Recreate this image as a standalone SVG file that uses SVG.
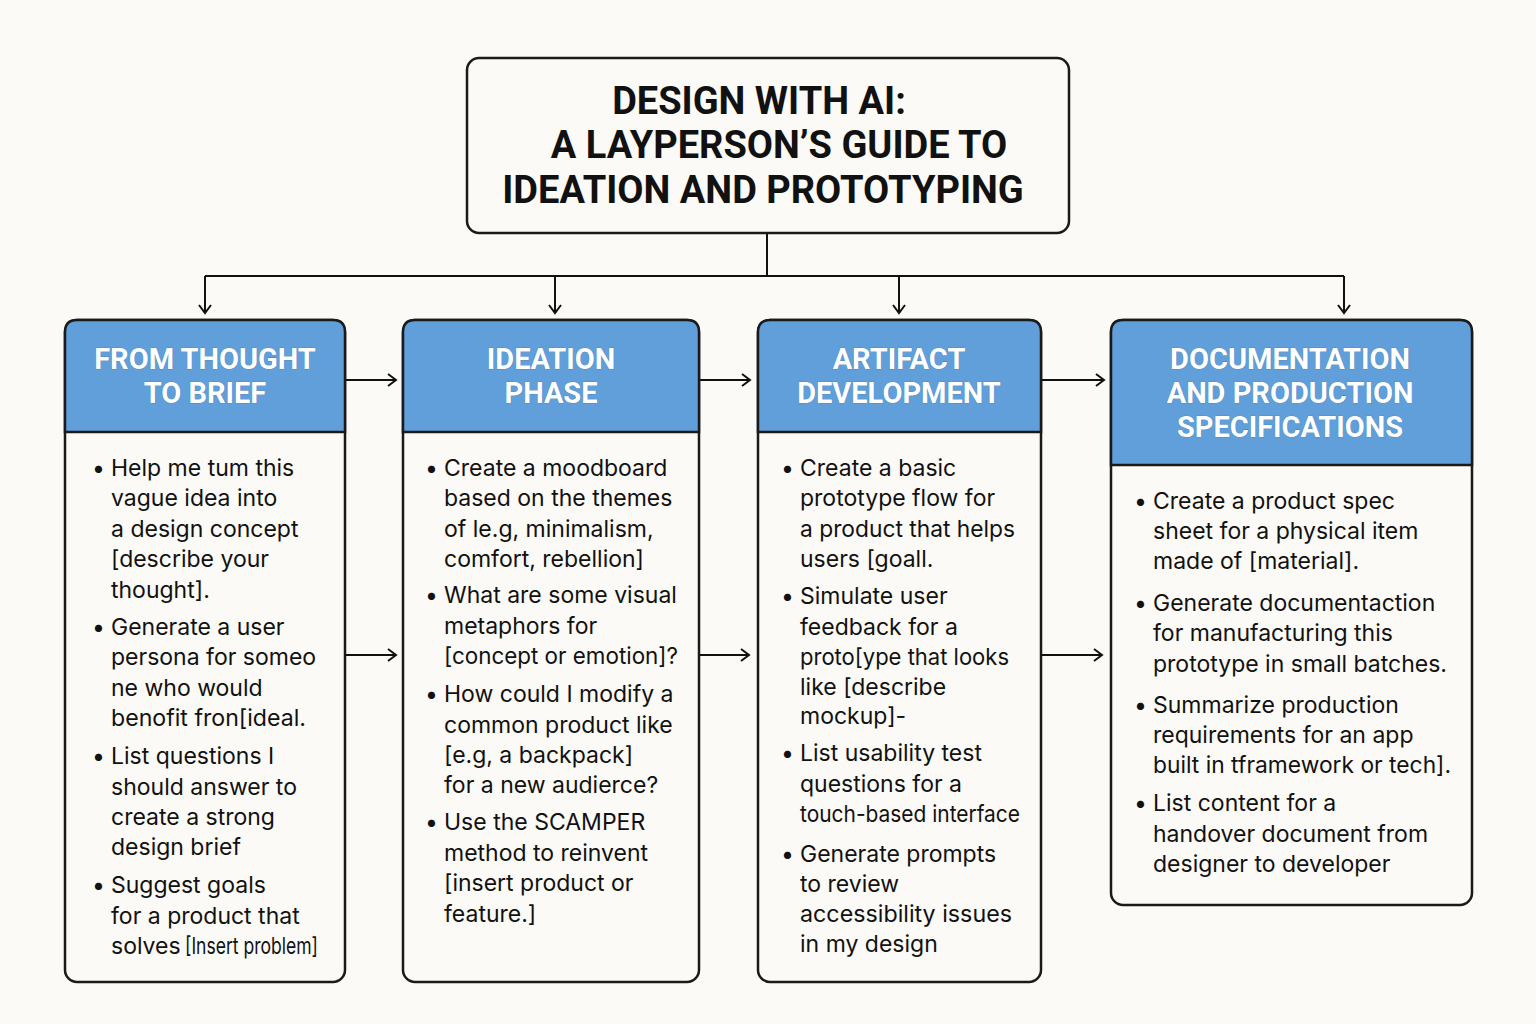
<svg xmlns="http://www.w3.org/2000/svg" width="1536" height="1024" viewBox="0 0 1536 1024">
<defs>
<marker id="ah" markerWidth="14" markerHeight="14" refX="11" refY="7" orient="auto" markerUnits="userSpaceOnUse">
<path d="M3,1 L11,7 L3,13" fill="none" stroke="#111" stroke-width="2"/>
</marker>
<style>
.box{fill:#fbfaf6;stroke:#1a1a1a;stroke-width:2.5}
.hdr{fill:#619fdb;stroke:#1a1a1a;stroke-width:2.5}
.title{font-family:Roboto,"Liberation Sans",sans-serif;font-weight:700;font-size:38px;fill:#111;text-anchor:middle}
.ht{font-family:Roboto,"Liberation Sans",sans-serif;font-weight:700;font-size:29px;fill:#fff;text-anchor:middle;stroke:#3f78b0;stroke-width:0.6;paint-order:stroke}
.bt{font-family:Inter,"Liberation Sans",sans-serif;font-size:23px;fill:#111}
.bu{font-family:Inter,"Liberation Sans",sans-serif;font-size:23px;fill:#111}
.ln{fill:none;stroke:#111;stroke-width:2}
</style>
</defs>
<rect width="1536" height="1024" fill="#fbfaf6"/>

<g id="connectors">
<path class="ln" d="M767,233 V276"/>
<path class="ln" d="M205,276 H1344"/>
<path class="ln" d="M205,276 V313" marker-end="url(#ah)"/>
<path class="ln" d="M555,276 V313" marker-end="url(#ah)"/>
<path class="ln" d="M899,276 V313" marker-end="url(#ah)"/>
<path class="ln" d="M1344,276 V313" marker-end="url(#ah)"/>
<path class="ln" d="M346,380 H396" marker-end="url(#ah)"/>
<path class="ln" d="M700,380 H750" marker-end="url(#ah)"/>
<path class="ln" d="M1042,380 H1104" marker-end="url(#ah)"/>
<path class="ln" d="M346,655 H396" marker-end="url(#ah)"/>
<path class="ln" d="M700,655 H749" marker-end="url(#ah)"/>
<path class="ln" d="M1042,655 H1102" marker-end="url(#ah)"/>
</g>

<g id="title">
<rect x="467" y="58" width="602" height="175" rx="12" class="box"/>
<text class="title" x="759" y="114">DESIGN WITH AI:</text>
<text class="title" x="779" y="158">A LAYPERSON’S GUIDE TO</text>
<text class="title" x="763" y="203">IDEATION AND PROTOTYPING</text>
</g>

<g id="col1">
<rect x="65" y="320" width="280" height="662" rx="12" class="box"/>
<path class="hdr" d="M65,432 V332 Q65,320 77,320 H333 Q345,320 345,332 V432 Z"/>
<text class="ht" x="205" y="369">FROM THOUGHT</text>
<text class="ht" x="205" y="403">TO BRIEF</text>
<text class="bu" x="92" y="476">•</text>
<text class="bt" x="111" y="476">Help me tum this</text>
<text class="bt" x="111" y="506">vague idea into</text>
<text class="bt" x="111" y="537">a design concept</text>
<text class="bt" x="111" y="567">[describe your</text>
<text class="bt" x="111" y="598">thought].</text>
<text class="bu" x="92" y="635">•</text>
<text class="bt" x="111" y="635">Generate a user</text>
<text class="bt" x="111" y="665">persona for someo</text>
<text class="bt" x="111" y="696">ne who would</text>
<text class="bt" x="111" y="726" textLength="195" lengthAdjust="spacingAndGlyphs">benofit fron[ideal.</text>
<text class="bu" x="92" y="764">•</text>
<text class="bt" x="111" y="764">List questions I</text>
<text class="bt" x="111" y="795">should answer to</text>
<text class="bt" x="111" y="825">create a strong</text>
<text class="bt" x="111" y="855">design brief</text>
<text class="bu" x="92" y="893">•</text>
<text class="bt" x="111" y="893">Suggest goals</text>
<text class="bt" x="111" y="924">for a product that</text>
<text class="bt" x="111" y="954">solves <tspan x="185" textLength="133" lengthAdjust="spacingAndGlyphs">[Insert problem]</tspan></text>
</g>

<g id="col2">
<rect x="403" y="320" width="296" height="662" rx="12" class="box"/>
<path class="hdr" d="M403,432 V332 Q403,320 415,320 H687 Q699,320 699,332 V432 Z"/>
<text class="ht" x="551" y="369">IDEATION</text>
<text class="ht" x="551" y="403">PHASE</text>
<text class="bu" x="425" y="476">•</text>
<text class="bt" x="444" y="476">Create a moodboard</text>
<text class="bt" x="444" y="506">based on the themes</text>
<text class="bt" x="444" y="537">of le.g, minimalism,</text>
<text class="bt" x="444" y="567">comfort, rebellion]</text>
<text class="bu" x="425" y="603">•</text>
<text class="bt" x="444" y="603">What are some visual</text>
<text class="bt" x="444" y="634">metaphors for</text>
<text class="bt" x="444" y="664" textLength="234" lengthAdjust="spacingAndGlyphs">[concept or emotion]?</text>
<text class="bu" x="425" y="702">•</text>
<text class="bt" x="444" y="702">How could I modify a</text>
<text class="bt" x="444" y="733">common product like</text>
<text class="bt" x="444" y="763">[e.g, a backpack]</text>
<text class="bt" x="444" y="793">for a new audierce?</text>
<text class="bu" x="425" y="830">•</text>
<text class="bt" x="444" y="830">Use the SCAMPER</text>
<text class="bt" x="444" y="861">method to reinvent</text>
<text class="bt" x="444" y="891">[insert product or</text>
<text class="bt" x="444" y="922">feature.]</text>
</g>

<g id="col3">
<rect x="758" y="320" width="283" height="662" rx="12" class="box"/>
<path class="hdr" d="M758,432 V332 Q758,320 770,320 H1029 Q1041,320 1041,332 V432 Z"/>
<text class="ht" x="899" y="369">ARTIFACT</text>
<text class="ht" x="899" y="403">DEVELOPMENT</text>
<text class="bu" x="781" y="476">•</text>
<text class="bt" x="800" y="476">Create a basic</text>
<text class="bt" x="800" y="506">prototype flow for</text>
<text class="bt" x="800" y="537" textLength="215" lengthAdjust="spacingAndGlyphs">a product that helps</text>
<text class="bt" x="800" y="567">users [goall.</text>
<text class="bu" x="781" y="604">•</text>
<text class="bt" x="800" y="604">Simulate user</text>
<text class="bt" x="800" y="635">feedback for a</text>
<text class="bt" x="800" y="665" textLength="209" lengthAdjust="spacingAndGlyphs">proto[ype that looks</text>
<text class="bt" x="800" y="695">like [describe</text>
<text class="bt" x="800" y="724">mockup]-</text>
<text class="bu" x="781" y="761">•</text>
<text class="bt" x="800" y="761">List usability test</text>
<text class="bt" x="800" y="792">questions for a</text>
<text class="bt" x="800" y="822" textLength="220" lengthAdjust="spacingAndGlyphs">touch-based interface</text>
<text class="bu" x="781" y="862">•</text>
<text class="bt" x="800" y="862">Generate prompts</text>
<text class="bt" x="800" y="892">to review</text>
<text class="bt" x="800" y="922" textLength="212" lengthAdjust="spacingAndGlyphs">accessibility issues</text>
<text class="bt" x="800" y="952">in my design</text>
</g>

<g id="col4">
<rect x="1111" y="320" width="361" height="585" rx="12" class="box"/>
<path class="hdr" d="M1111,465 V332 Q1111,320 1123,320 H1460 Q1472,320 1472,332 V465 Z"/>
<text class="ht" x="1290" y="369">DOCUMENTATION</text>
<text class="ht" x="1290" y="403">AND PRODUCTION</text>
<text class="ht" x="1290" y="437">SPECIFICATIONS</text>
<text class="bu" x="1134" y="509">•</text>
<text class="bt" x="1153" y="509">Create a product spec</text>
<text class="bt" x="1153" y="539">sheet for a physical item</text>
<text class="bt" x="1153" y="569">made of [material].</text>
<text class="bu" x="1134" y="611">•</text>
<text class="bt" x="1153" y="611">Generate documentaction</text>
<text class="bt" x="1153" y="641">for manufacturing this</text>
<text class="bt" x="1153" y="672" textLength="294" lengthAdjust="spacingAndGlyphs">prototype in small batches.</text>
<text class="bu" x="1134" y="713">•</text>
<text class="bt" x="1153" y="713">Summarize production</text>
<text class="bt" x="1153" y="743">requirements for an app</text>
<text class="bt" x="1153" y="773" textLength="298" lengthAdjust="spacingAndGlyphs">built in tframework or tech].</text>
<text class="bu" x="1134" y="811">•</text>
<text class="bt" x="1153" y="811">List content for a</text>
<text class="bt" x="1153" y="842">handover document from</text>
<text class="bt" x="1153" y="872">designer to developer</text>
</g>
</svg>
